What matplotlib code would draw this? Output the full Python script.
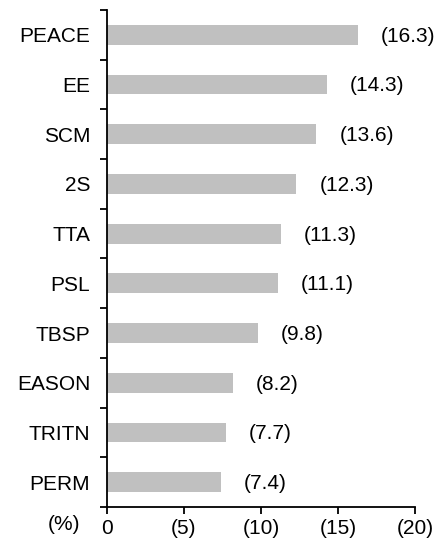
import matplotlib
matplotlib.use("Agg")
import matplotlib.pyplot as plt
import numpy as np

categories = ["PEACE", "EE", "SCM", "2S", "TTA", "PSL", "TBSP", "EASON", "TRITN", "PERM"]
values = [16.3, 14.3, 13.6, 12.3, 11.3, 11.1, 9.8, 8.2, 7.7, 7.4]
xticks = [0, 5, 10, 15, 20]
xticklabels = ["0", "(5)", "(10)", "(15)", "(20)"]

plt.rcParams['font.family'] = ['Liberation Sans', 'DejaVu Sans']
FS = 15

fig = plt.figure(figsize=(4.38, 5.43), dpi=100)
ax = fig.add_axes([107/438, 1-507/543, (415-107)/438, (507-10)/543])

n = len(categories)
ypos = np.arange(n)
ax.barh(ypos, values, height=0.4, color="#c0c0c0")
for y, v in zip(ypos, values):
    ax.annotate(f"({v:.1f})", xy=(v, y), xytext=(16.5, -1), textcoords="offset points",
                ha="left", va="center", fontsize=FS)

ax.set_xlim(0, 20)
ax.set_ylim(n - 0.5, -0.5)

ax.set_xticks(xticks)
ax.set_xticklabels(xticklabels, fontsize=FS)
ax.tick_params(axis='x', direction='out', length=5, width=1.3, pad=4)

ax.set_yticks(np.arange(-0.5, n, 1.0))
ax.set_yticklabels([])
ax.tick_params(axis='y', which='major', direction='out', length=5, width=1.3)
ax.set_yticks(ypos, minor=True)
ax.set_yticklabels(categories, minor=True, fontsize=FS)
ax.tick_params(axis='y', which='minor', length=0, pad=12)

for s in ["top", "right"]:
    ax.spines[s].set_visible(False)
for s in ["left", "bottom"]:
    ax.spines[s].set_linewidth(1.3)

fig.text(64/438, 1-524/543, "(%)", fontsize=FS, ha="center", va="center")

fig.savefig("out.png", dpi=100)
